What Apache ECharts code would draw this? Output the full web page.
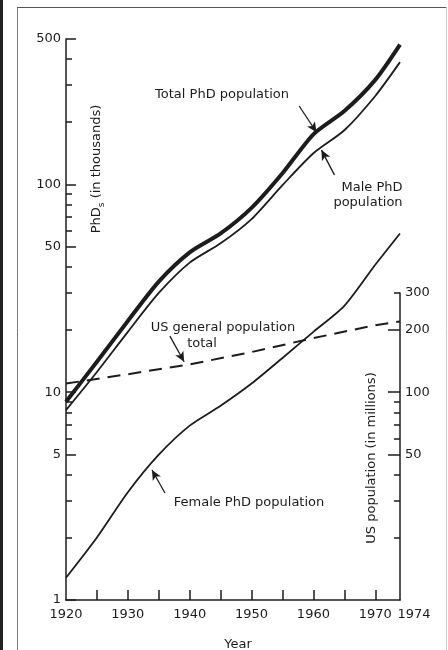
<!DOCTYPE html>
<html>
<head>
<meta charset="utf-8">
<script src="https://cdn.jsdelivr.net/npm/echarts@6/dist/echarts.min.js"></script>
<style>
html, body { margin: 0; padding: 0; background: #fff; }
#chart { width: 448px; height: 650px; }
</style>
</head>
<body>
<div id="chart"></div>
<script>
// PhD counts in thousands (left log axis)
const YEARS = [1920, 1925, 1930, 1935, 1940, 1945, 1950, 1955, 1960, 1965, 1970, 1974]
const TOTAL_PHD = [9, 14, 22, 34, 47, 58, 77, 113, 174, 225, 318, 470]
const MALE_PHD = [8.2, 12.5, 19.5, 30, 42, 52, 68, 99, 141, 182, 266, 387]
const FEMALE_PHD = [1.28, 2.0, 3.3, 5.0, 6.9, 8.6, 11, 14.6, 19.5, 26, 41, 58]

// US population in millions (right log axis)
const US_YEARS = [1920, 1930, 1940, 1950, 1960, 1970, 1974]
const US_POP = [110, 122, 136, 156, 182, 210, 219]

// tick labels
const YEAR_LABELS = [1920, 1930, 1940, 1950, 1960, 1970, 1974]
const YEAR_TICKS = [1925, 1930, 1935, 1940, 1945, 1950, 1955, 1960, 1965, 1970]
const PHD_LABELS = [1, 5, 10, 50, 100, 500]
const PHD_MINOR = [2, 3, 4, 6, 7, 8, 9, 20, 30, 40, 60, 70, 80, 90, 200, 300, 400]
const US_LABELS = [50, 100, 200, 300]
const US_MAJOR = [50, 100, 200]
const US_MINOR = [20, 30, 40, 60, 70, 80, 90, 300]

// annotation arrows [tail, head] in data units
const TOTAL_ARROW = [[1957.7, 238], [1960.5, 178]]
const MALE_ARROW = [[1963.4, 111], [1961.3, 146]]
const US_ARROW = [[1936.8, 186], [1939.1, 140]]
const FEMALE_ARROW = [[1936.0, 3.27], [1933.9, 4.22]]

const INK = '#1c1c1c'
const FONT = 'DejaVu Sans'

const zip = (xs, ys) => xs.map((x, i) => [x, ys[i]])

function arrow(pair) {
  return {
    silent: true,
    symbol: ['none', 'arrow'],
    symbolSize: [7, 10],
    label: { show: false },
    lineStyle: { color: INK, width: 1.3, type: 'solid' },
    data: [[{ coord: pair[0] }, { coord: pair[1] }]],
  }
}

function text(x, y, str, extra) {
  return Object.assign({
    type: 'text', x, y,
    style: { text: str, fontSize: 13, fontFamily: FONT, fill: INK, align: 'center', verticalAlign: 'middle' },
  }, extra || {})
}

const lineAxis = { show: true, onZero: false, lineStyle: { color: INK, width: 1.5 } }
const tickStyle = { color: INK, width: 1.5 }
const labelStyle = { color: INK, fontSize: 13, fontFamily: FONT }

function logAxis(grid, pos, min, max, labels, ticks, len, withLine) {
  return {
    gridIndex: grid,
    type: 'log',
    logBase: 10,
    min, max,
    position: pos,
    axisLine: withLine ? lineAxis : { show: false },
    axisTick: { show: true, inside: true, length: len, customValues: ticks, lineStyle: tickStyle },
    axisLabel: labels
      ? Object.assign({ show: true, customValues: labels, margin: 5, showMinLabel: true, showMaxLabel: true }, labelStyle)
      : { show: false },
    splitLine: { show: false },
  }
}

const option = {
  animation: false,
  backgroundColor: '#fff',
  grid: [
    { left: 66, right: 48, top: 39, bottom: 50, outerBoundsMode: 'none' },
    { left: 66, right: 48, top: 293, bottom: 50, outerBoundsMode: 'none' },
  ],
  xAxis: [
    {
      gridIndex: 0,
      type: 'value',
      min: 1920,
      max: 1974,
      axisLine: lineAxis,
      axisTick: { show: true, inside: true, length: 10, customValues: YEAR_TICKS, lineStyle: tickStyle },
      axisLabel: Object.assign({
        customValues: YEAR_LABELS,
        margin: 8,
        showMinLabel: true,
        showMaxLabel: true,
        formatter: (v) => (v === 1974 ? '{r|1974}' : String(v)),
        rich: { r: { padding: [0, 0, 0, 28], color: INK, fontSize: 13, fontFamily: FONT } },
      }, labelStyle),
      splitLine: { show: false },
    },
    { gridIndex: 1, type: 'value', min: 1920, max: 1974, show: false },
  ],
  yAxis: [
    logAxis(0, 'left', 1, 500, PHD_LABELS, PHD_LABELS, 10, true),
    logAxis(0, 'left', 1, 500, null, PHD_MINOR, 6, false),
    logAxis(1, 'right', 10, 300, US_LABELS, US_MAJOR, 12, true),
    logAxis(1, 'right', 10, 300, null, US_MINOR, 6, false),
  ],
  series: [
    {
      name: 'Total PhD population', type: 'line', xAxisIndex: 0, yAxisIndex: 0,
      data: zip(YEARS, TOTAL_PHD), smooth: 0.25, showSymbol: false,
      lineStyle: { color: INK, width: 4 },
      markLine: arrow(TOTAL_ARROW),
    },
    {
      name: 'Male PhD population', type: 'line', xAxisIndex: 0, yAxisIndex: 0,
      data: zip(YEARS, MALE_PHD), smooth: 0.25, showSymbol: false,
      lineStyle: { color: INK, width: 1.8 },
      markLine: arrow(MALE_ARROW),
    },
    {
      name: 'Female PhD population', type: 'line', xAxisIndex: 0, yAxisIndex: 0,
      data: zip(YEARS, FEMALE_PHD), smooth: 0.25, showSymbol: false,
      lineStyle: { color: INK, width: 1.8 },
      markLine: arrow(FEMALE_ARROW),
    },
    {
      name: 'US general population total', type: 'line', xAxisIndex: 1, yAxisIndex: 2,
      data: zip(US_YEARS, US_POP), showSymbol: false,
      lineStyle: { color: INK, width: 2, type: [13, 8] },
      markLine: arrow(US_ARROW),
    },
  ],
  graphic: [
    // scan frame
    { type: 'rect', shape: { x: 0, y: 0, width: 3, height: 650 }, style: { fill: '#222' } },
    { type: 'line', shape: { x1: 17.5, y1: 7, x2: 17.5, y2: 650 }, style: { stroke: '#777', lineWidth: 1 } },
    { type: 'line', shape: { x1: 17, y1: 7.5, x2: 447, y2: 7.5 }, style: { stroke: '#555', lineWidth: 1 } },
    { type: 'line', shape: { x1: 446.5, y1: 7, x2: 446.5, y2: 650 }, style: { stroke: '#ccc', lineWidth: 1 } },
    // annotations
    text(222, 95, 'Total PhD population'),
    text(372, 188, 'Male PhD'),
    text(368, 203, 'population'),
    text(223, 328, 'US general population'),
    text(202, 344, 'total'),
    text(249, 503, 'Female PhD population'),
    // axis titles
    {
      type: 'text', x: 98, y: 169, rotation: Math.PI / 2,
      style: {
        text: '{a|PhD}{s|s}{a| (in thousands)}',
        align: 'center', verticalAlign: 'middle',
        rich: {
          a: { fontSize: 13, fontFamily: FONT, fill: INK, verticalAlign: 'top', lineHeight: 16 },
          s: { fontSize: 9, fontFamily: FONT, fill: INK, verticalAlign: 'bottom', lineHeight: 16 },
        },
      },
    },
    text(372, 458, 'US population (in millions)', { rotation: Math.PI / 2 }),
    text(238, 645, 'Year'),
  ],
}

const chart = echarts.init(document.getElementById('chart'))
chart.setOption(option)
</script>
</body>
</html>
